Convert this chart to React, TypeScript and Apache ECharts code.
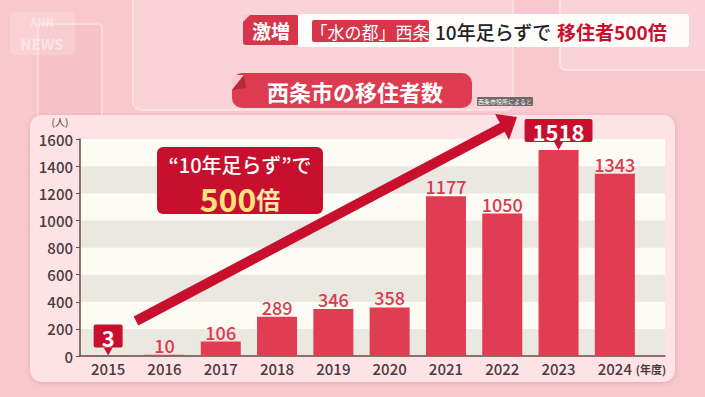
import React, { useEffect, useRef } from "react";
import * as echarts from "echarts";

const years = ["2015", "2016", "2017", "2018", "2019", "2020", "2021", "2022", "2023", "2024"];
const movers = [3, 10, 106, 289, 346, 358, 1177, 1050, 1518, 1343];
const highlighted = ["2015", "2023"];
const yMin = 0;
const yMax = 1600;
const yStep = 200;

const FONT = '"Noto Sans CJK JP", "Noto Sans", sans-serif';
const RED = "#e03c52";
const DARK = "#c8102e";
const TEXT = "#4a3c3c";

export default function App() {
  const ref = useRef<HTMLDivElement>(null);
  useEffect(() => {
    if (!ref.current) return;
    const chart = echarts.init(ref.current, undefined, { renderer: "svg" });
    const barData = movers.map((v, i) => {
      const hl = highlighted.includes(years[i]);
      return {
        value: v,
        label: hl
          ? {
              distance: 8,
              formatter: "{hl|{c}}",
            }
          : undefined,
      };
    });
    const option: any = {
      animation: false,
      backgroundColor: "#f8c8ce",
      textStyle: { fontFamily: FONT },
      grid: [
        { left: 80, right: 40, top: 139, bottom: 41 },
        { left: 80, right: 62, top: 139, bottom: 41 },
      ],
      xAxis: [
        {
          gridIndex: 0,
          type: "value",
          min: 0,
          max: 1,
          axisLine: { show: true, lineStyle: { color: "#6a4a4a", width: 1.5 } },
          axisTick: { show: false },
          axisLabel: { show: false },
          splitLine: { show: false },
        },
        {
          gridIndex: 1,
          type: "category",
          data: years,
          axisLine: { show: false },
          axisTick: { show: false },
          axisLabel: {
            color: TEXT,
            fontSize: 15,
            fontWeight: 500,
            fontFamily: FONT,
            margin: 5,
          },
        },
      ],
      yAxis: [
        {
          gridIndex: 0,
          type: "value",
          min: yMin,
          max: yMax,
          interval: yStep,
          axisLine: { show: true, lineStyle: { color: "#6a4a4a", width: 1.5 } },
          axisTick: { show: true, length: 4, lineStyle: { color: "#6a4a4a" } },
          axisLabel: {
            color: TEXT,
            fontSize: 15,
            fontWeight: 500,
            fontFamily: FONT,
            margin: 7,
            formatter: (v: number) => String(v),
          },
          splitLine: { show: false },
          splitArea: { show: true, areaStyle: { color: ["#ebe8e1", "#fdfcf4"] } },
        },
        {
          gridIndex: 1,
          type: "value",
          min: yMin,
          max: yMax,
          interval: yStep,
          show: false,
          splitLine: { show: false },
        },
      ],
      series: [
        {
          type: "bar",
          xAxisIndex: 1,
          yAxisIndex: 1,
          data: barData,
          barWidth: 40,
          itemStyle: { color: RED },
          label: {
            show: true,
            position: "top",
            distance: 1,
            color: "#db3a50",
            fontSize: 18,
            fontWeight: 500,
            fontFamily: FONT,
            rich: {
              hl: {
                backgroundColor: DARK,
                color: "#ffffff",
                fontSize: 22,
                fontWeight: "bold",
                fontFamily: FONT,
                padding: [1, 8, 0, 8],
                borderRadius: 2,
              },
            },
          },
          markPoint: {
            symbol: "triangle",
            symbolRotate: 180,
            symbolSize: [9, 8],
            symbolOffset: [0, -4],
            itemStyle: { color: DARK },
            label: { show: false },
            data: highlighted.map((y) => ({ coord: [y, movers[years.indexOf(y)]] })),
          },
        },
      ],
      graphic: [
        // background decorative panels
        { type: "rect", z: -10, shape: { x: 133, y: -10, width: 380, height: 120, r: 8 }, style: { fill: "#fad3d8", stroke: "#fce0e3", lineWidth: 2 } },
        { type: "rect", z: -10, shape: { x: 38, y: 24, width: 64, height: 300, r: 4 }, style: { fill: "#f7c2c9", stroke: "#fbd7db", lineWidth: 2 } },
        { type: "rect", z: -10, shape: { x: 560, y: -10, width: 160, height: 80, r: 6 }, style: { fill: "#fad3d8", stroke: "#fce0e3", lineWidth: 2 } },
        // logo
        { type: "rect", z: -9, shape: { x: 10, y: 12, width: 65, height: 43, r: 5 }, style: { fill: "rgba(255,255,255,0.18)" } },
        { type: "text", z: -8, style: { x: 42, y: 22, text: "ANN", fill: "rgba(255,255,255,0.45)", font: `bold 11px ${FONT}`, align: "center", verticalAlign: "middle" } },
        { type: "text", z: -8, style: { x: 42, y: 43, text: "NEWS", fill: "rgba(255,255,255,0.45)", font: `bold 15px ${FONT}`, align: "center", verticalAlign: "middle" } },
        // chart panel
        {
          type: "rect",
          z: -5,
          shape: { x: 30, y: 115, width: 645, height: 267, r: 12 },
          style: { fill: "#fde3e6", shadowColor: "rgba(150,60,70,0.25)", shadowBlur: 4, shadowOffsetY: 1 },
        },
        // top banner
        { type: "rect", shape: { x: 243, y: 15, width: 56, height: 30, r: 3 }, style: { fill: "#d8344a" } },
        { type: "polygon", shape: { points: [[243, 22], [250, 15], [243, 15]] }, style: { fill: "#f8c8ce" } },
        { type: "text", style: { x: 271, y: 30, text: "激増", fill: "#fff", font: `bold 19px ${FONT}`, align: "center", verticalAlign: "middle" } },
        { type: "rect", shape: { x: 298, y: 14, width: 391, height: 33, r: 3 }, style: { fill: "#fffdfb" } },
        { type: "rect", shape: { x: 312, y: 20, width: 117, height: 22, r: 2 }, style: { fill: "#d8344a" } },
        { type: "text", style: { x: 370, y: 31, text: "「水の都」西条", fill: "#fff", font: `17px ${FONT}`, align: "center", verticalAlign: "middle" } },
        { type: "text", style: { x: 435, y: 31, text: "10年足らずで", fill: "#222", font: `500 19px ${FONT}`, align: "left", verticalAlign: "middle" } },
        { type: "text", style: { x: 557, y: 31, text: "移住者500倍", fill: DARK, font: `bold 19px ${FONT}`, align: "left", verticalAlign: "middle" } },
        // title
        { type: "rect", shape: { x: 232, y: 73, width: 240, height: 35, r: 10 }, style: { fill: "#dc3b50" } },
        { type: "polygon", shape: { points: [[232, 90], [244, 75], [232, 75]] }, style: { fill: "#f8c8ce" } },
        { type: "polygon", shape: { points: [[232, 90], [244, 75], [246, 88]] }, style: { fill: "#b8283c" } },
        { type: "text", style: { x: 355, y: 91, text: "西条市の移住者数", fill: "#fff", font: `bold 22px ${FONT}`, align: "center", verticalAlign: "middle" } },
        { type: "rect", shape: { x: 477, y: 97, width: 56, height: 9, r: 1 }, style: { fill: "#6e6a6a" } },
        { type: "text", style: { x: 505, y: 101.5, text: "西条市役所によると", fill: "#fff", font: `6px ${FONT}`, align: "center", verticalAlign: "middle" } },
        // axis units
        { type: "text", style: { x: 60, y: 121, text: "(人)", fill: TEXT, font: `10px ${FONT}`, align: "center", verticalAlign: "middle" } },
        { type: "text", style: { x: 651, y: 369, text: "(年度)", fill: TEXT, font: `bold 11px ${FONT}`, align: "center", verticalAlign: "middle" } },
        // arrow
        { type: "line", z: 50, shape: { x1: 136, y1: 321, x2: 503, y2: 127 }, style: { stroke: DARK, lineWidth: 10 } },
        { type: "polygon", z: 50, shape: { points: [[495, 114], [517, 117], [509, 140]] }, style: { fill: DARK } },
        // annotation
        { type: "rect", z: 51, shape: { x: 157, y: 147, width: 166, height: 67, r: 6 }, style: { fill: DARK } },
        { type: "text", z: 52, style: { x: 240, y: 164, text: "“10年足らず”で", fill: "#fff", font: `500 20px ${FONT}`, align: "center", verticalAlign: "middle" } },
        {
          type: "text",
          z: 52,
          style: {
            x: 240,
            y: 198,
            text: "{a|500}{b|倍}",
            align: "center",
            verticalAlign: "middle",
            rich: {
              a: { fill: "#fde37e", font: `bold 32px ${FONT}`, lineHeight: 30 },
              b: { fill: "#fde9a8", font: `bold 24px ${FONT}`, lineHeight: 30 },
            },
          },
        },
      ],
    };
    chart.setOption(option);
    return () => chart.dispose();
  }, []);
  return <div ref={ref} style={{ width: 705, height: 397, position: "absolute", left: 0, top: 0 }} />;
}
